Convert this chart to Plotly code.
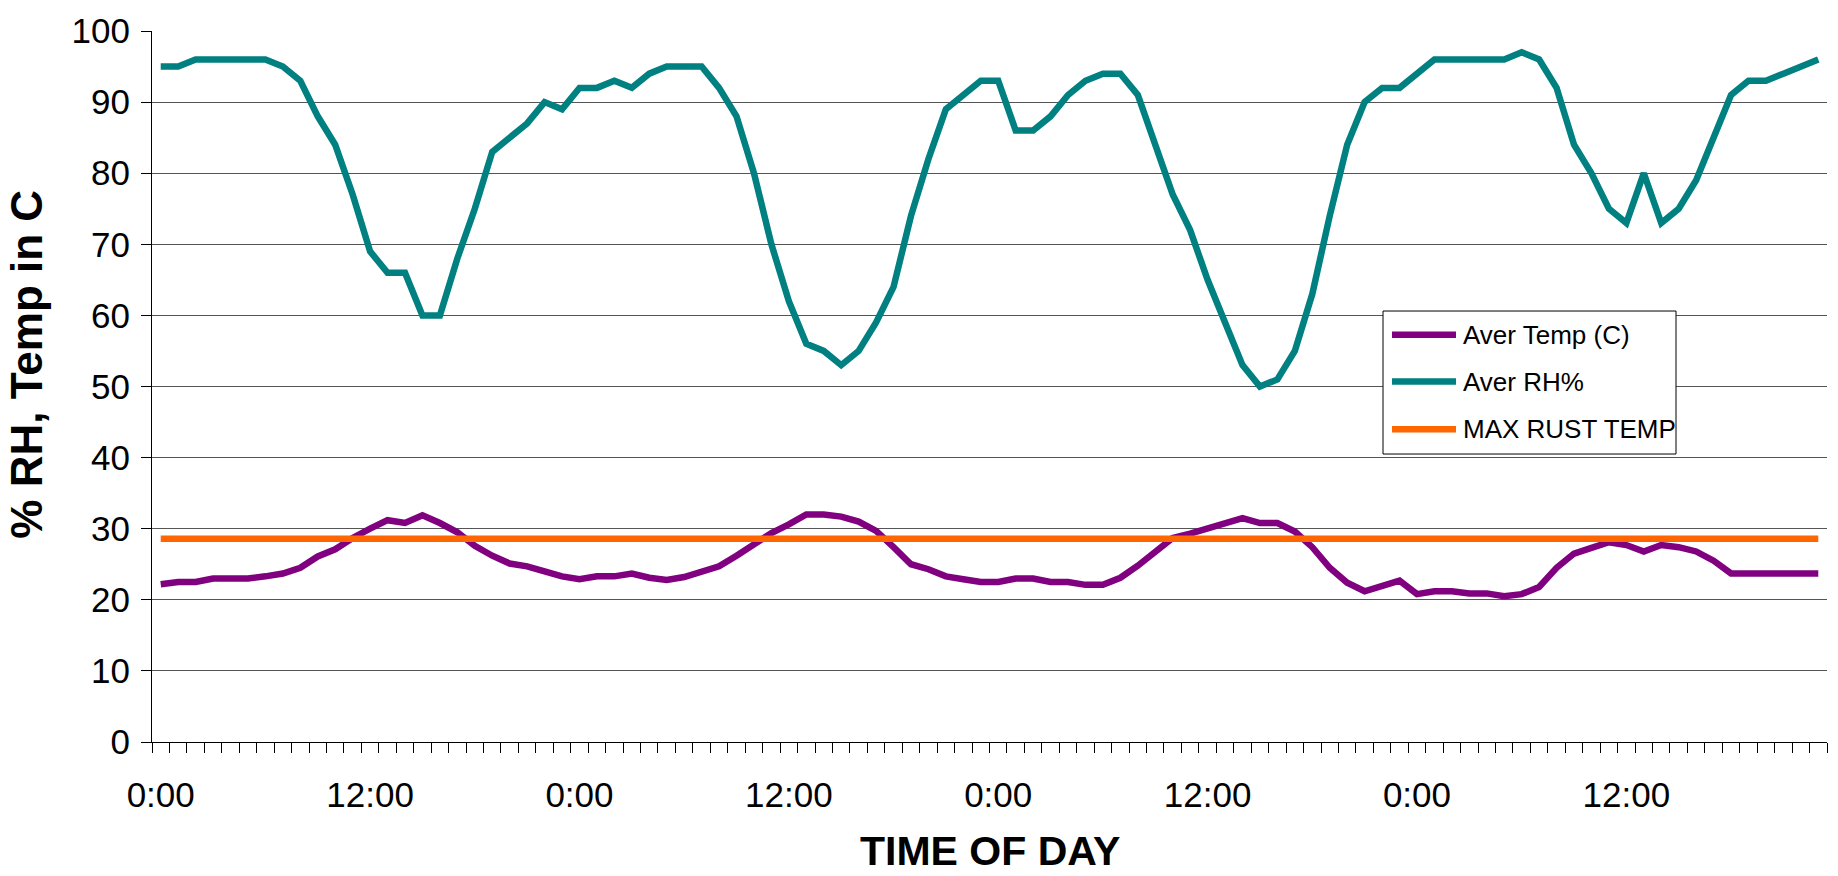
import plotly.graph_objects as go

# Hourly readings over four days (96 samples)
hours = list(range(96))

aver_rh = [
    95, 95, 96, 96, 96, 96, 96, 95, 93, 88, 84, 77, 69, 66, 66, 60,
    60, 68, 75, 83, 85, 87, 90, 89, 92, 92, 93, 92, 94, 95, 95, 95,
    92, 88, 80, 70, 62, 56, 55, 53, 55, 59, 64, 74, 82, 89, 91, 93,
    93, 86, 86, 88, 91, 93, 94, 94, 91, 84, 77, 72, 65, 59, 53, 50,
    51, 55, 63, 74, 84, 90, 92, 92, 94, 96, 96, 96, 96, 96, 97, 96,
    92, 84, 80, 75, 73, 80, 73, 75, 79, 85, 91, 93, 93, 94, 95, 96,
]

aver_temp = [
    22.2, 22.5, 22.5, 23.0, 23.0, 23.0, 23.3, 23.7, 24.5, 26.1, 27.1, 28.7, 30.0, 31.2, 30.8, 31.9,
    30.8, 29.5, 27.6, 26.2, 25.1, 24.7, 24.0, 23.3, 22.9, 23.3, 23.3, 23.7, 23.1, 22.8, 23.2, 24.0,
    24.7, 26.2, 27.9, 29.4, 30.6, 32.0, 32.0, 31.7, 31.0, 29.7, 27.4, 25.0, 24.3, 23.3, 22.9, 22.5,
    22.5, 23.0, 23.0, 22.5, 22.5, 22.1, 22.1, 23.1, 24.8, 26.7, 28.7, 29.3, 30.0, 30.7, 31.5, 30.8,
    30.8, 29.6, 27.4, 24.5, 22.4, 21.2, 21.9, 22.7, 20.8, 21.2, 21.2, 20.9, 20.9, 20.5, 20.8, 21.8,
    24.5, 26.5, 27.3, 28.1, 27.7, 26.8, 27.7, 27.4, 26.8, 25.5, 23.7, 23.7, 23.7, 23.7, 23.7, 23.7,
]

max_rust_temp = [28.6] * len(hours)

label_hours = [0, 12, 24, 36, 48, 60, 72, 84]
label_text = ["0:00", "12:00", "0:00", "12:00", "0:00", "12:00", "0:00", "12:00"]

series = [
    ("Aver Temp (C)", aver_temp, "#800080"),
    ("Aver RH%", aver_rh, "#008080"),
    ("MAX RUST TEMP", max_rust_temp, "#FF6600"),
]

FONT = "Liberation Sans, Arial, sans-serif"

fig = go.Figure()
for name, values, color in series:
    fig.add_trace(go.Scatter(
        x=hours, y=values, name=name, mode="lines",
        line=dict(color=color, width=6.5),
        showlegend=False,
    ))

# Hand-built legend box: white panel, line swatches and labels
W, H = 1838, 876
L, R, T, B = 152, 11, 26, 134
pw, ph = W - L - R, H - T - B


def px(xp):
    return (xp - L) / pw


def py(yp):
    return (H - B - yp) / ph


shapes = [dict(type="rect", xref="paper", yref="paper",
               x0=px(1383), x1=px(1676), y0=py(452), y1=py(308),
               fillcolor="white", line=dict(color="black", width=1),
               layer="above")]
annotations = []
row_y = [332, 379, 427]
for (name, _, color), yy in zip(series, row_y):
    shapes.append(dict(type="line", xref="paper", yref="paper",
                       x0=px(1392), x1=px(1456), y0=py(yy), y1=py(yy),
                       line=dict(color=color, width=6.5), layer="above"))
    annotations.append(dict(xref="paper", yref="paper", x=px(1461), y=py(yy),
                            text=name, showarrow=False, xanchor="left",
                            yanchor="middle",
                            font=dict(family=FONT, size=26, color="black")))

annotations.append(dict(xref="paper", yref="paper", x=0.5, y=py(852),
                        text="<b>TIME OF DAY</b>", showarrow=False,
                        xanchor="center", yanchor="middle",
                        font=dict(family=FONT, size=41, color="black")))
annotations.append(dict(xref="paper", yref="paper", x=px(27), y=py(362),
                        text="<b>% RH, Temp in C</b>", showarrow=False,
                        textangle=-90, xanchor="center", yanchor="middle",
                        font=dict(family=FONT, size=44, color="black")))

fig.update_layout(
    width=W, height=H,
    margin=dict(l=L, r=R, t=T, b=B, pad=0),
    paper_bgcolor="white", plot_bgcolor="white",
    font=dict(family=FONT, size=35, color="black"),
    shapes=shapes, annotations=annotations,
    showlegend=False,
)

fig.update_xaxes(
    range=[-0.5, 95.5], showgrid=False, zeroline=False,
    showline=True, linecolor="black", linewidth=1,
    tickmode="array", tickvals=label_hours, ticktext=label_text,
    ticks="", ticklabelstandoff=22,
    minor=dict(tickmode="linear", tick0=-0.5, dtick=1, ticks="outside",
               ticklen=10, tickcolor="black", tickwidth=1, showgrid=False),
)

fig.update_yaxes(
    range=[0, 100], dtick=10, tick0=0,
    showgrid=True, gridcolor="#555555", gridwidth=1,
    zeroline=False, showline=True, linecolor="black", linewidth=1,
    ticks="outside", ticklen=10, tickcolor="black",
    ticklabelstandoff=4,
)

fig.write_html("out.html")
